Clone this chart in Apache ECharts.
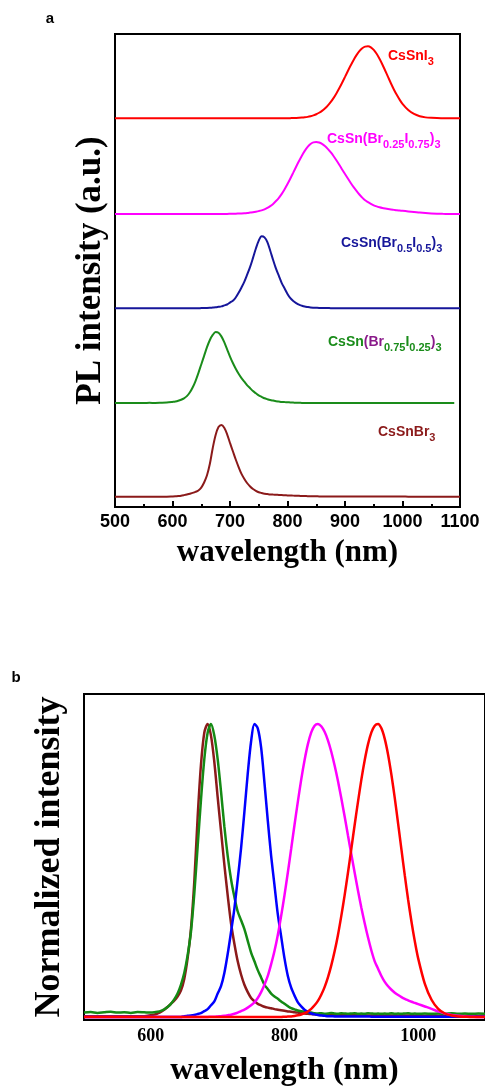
<!DOCTYPE html>
<html>
<head>
<meta charset="utf-8">
<script src="https://cdn.jsdelivr.net/npm/echarts@6/dist/echarts.min.js"></script>
<style>
html,body{margin:0;padding:0;background:#fff;}
#chart{width:485px;height:1088px;}
</style>
</head>
<body>
<div id="chart"></div>
<script>
// wavelength grid (nm): 10 nm steps at the ends, 5 nm steps 600-1000
const wavelengths = [500,510,520,530,540,550,560,570,580,590,
600,605,610,615,620,625,630,635,640,645,650,655,660,665,670,675,680,685,690,695,
700,705,710,715,720,725,730,735,740,745,750,755,760,765,770,775,780,785,790,795,
800,805,810,815,820,825,830,835,840,845,850,855,860,865,870,875,880,885,890,895,
900,905,910,915,920,925,930,935,940,945,950,955,960,965,970,975,980,985,990,995,
1000,1010,1020,1030,1040,1050,1060,1070,1080,1090,1100];

// normalized PL spectra
const cssnbr3 = [0.003,0.003,0.003,0.003,0.003,0.003,0.003,0.003,0.003,0.003,
0.006,0.008,0.012,0.017,0.025,0.034,0.045,0.056,0.07,0.09,
0.13,0.2,0.30,0.46,0.68,0.86,0.97,1.0,0.96,0.87,
0.75,0.635,0.52,0.415,0.32,0.25,0.19,0.145,0.11,0.085,
0.065,0.054,0.045,0.04,0.035,0.032,0.03,0.027,0.025,0.023,
0.021,0.019,0.018,0.016,0.015,0.013,0.012,0.011,0.01,0.009,
0.008,0.0075,0.007,0.006,0.006,0.006,0.006,0.006,0.006,0.006,
0.006,0.006,0.006,0.005,0.005,0.005,0.005,0.005,0.005,0.005,
0.005,0.005,0.005,0.005,0.005,0.005,0.005,0.005,0.005,0.005,
0.005,0.004,0.004,0.004,0.004,0.004,0.004,0.004,0.004,0.004,0.004];

const brI_75_25_b = [0.015,0.017,0.014,0.016,0.018,0.015,0.016,0.014,0.017,0.016,
0.015,0.016,0.018,0.021,0.026,0.034,0.045,0.06,0.08,0.11,
0.15,0.21,0.29,0.42,0.58,0.74,0.88,0.97,1.0,0.96,
0.88,0.77,0.65,0.55,0.47,0.41,0.36,0.33,0.30,0.26,
0.22,0.19,0.16,0.135,0.11,0.095,0.08,0.07,0.062,0.053,
0.045,0.037,0.03,0.026,0.022,0.02,0.018,0.016,0.015,0.013,
0.012,0.013,0.011,0.012,0.014,0.012,0.011,0.013,0.012,0.011,
0.012,0.013,0.011,0.012,0.011,0.013,0.012,0.011,0.012,0.011,
0.012,0.011,0.013,0.011,0.012,0.011,0.012,0.013,0.011,0.012,
0.011,0.012,0.011,0.012,0.011,0.013,0.011,0.012,0.011,0.012,0.011];

const brI_75_25_a = [0.015,0.016,0.015,0.014,0.016,0.015,0.017,0.015,0.018,0.022,
0.03,0.035,0.045,0.06,0.08,0.11,0.16,0.23,0.32,0.43,
0.55,0.67,0.79,0.89,0.96,1.0,0.99,0.94,0.86,0.76,
0.66,0.57,0.49,0.42,0.36,0.31,0.26,0.22,0.18,0.15,
0.12,0.10,0.08,0.067,0.056,0.048,0.04,0.035,0.03,0.027,
0.025,0.022,0.02,0.018,0.017,0.016,0.015,0.016,0.015,0.014,
0.015,0.016,0.014,0.015,0.015,0.016,0.014,0.015,0.016,0.015,
0.014,0.015,0.016,0.015,0.014,0.015,0.015,0.016,0.014,0.015,
0.015,0.014,0.016,0.015,0.015,0.014,0.015,0.016,0.015,0.014,
0.015,0.015,0.016,0.014,0.015,0.015,0.014,0.016,0.015,0.015,null];

const brI_50_50 = [0,0,0,0,0,0,0,0,0,0,
0,0,0,0,0,0,0,0,0,0,
0.003,0.004,0.005,0.007,0.01,0.013,0.02,0.027,0.04,0.053,
0.08,0.105,0.15,0.215,0.29,0.37,0.47,0.575,0.70,0.83,
0.94,1.0,0.985,0.92,0.80,0.67,0.55,0.45,0.35,0.275,
0.20,0.14,0.10,0.073,0.05,0.036,0.025,0.018,0.012,0.009,
0.007,0.005,0.004,0.003,0.003,0.002,0.002,0.002,0.002,0.002,
0.002,0.002,0.002,0.002,0.002,0.002,0.001,0.001,0.001,0.001,
0.001,0.001,0.001,0.001,0.001,0.001,0.001,0.001,0.001,0.001,
0.001,0.001,0.001,0.001,0.001,0.001,0.001,0.001,0.001,0.001,0.001];

const brI_25_75 = [0,0,0,0,0,0,0,0,0,0,
0,0,0,0,0,0,0,0,0,0,
0,0,0,0,0,0,0,0,0.001,0.001,
0.002,0.003,0.004,0.006,0.008,0.011,0.015,0.02,0.025,0.032,
0.04,0.05,0.065,0.085,0.11,0.14,0.18,0.225,0.28,0.345,
0.416,0.493,0.574,0.656,0.735,0.81,0.876,0.931,0.971,0.994,
1.0,0.992,0.973,0.944,0.905,0.858,0.805,0.746,0.684,0.619,
0.555,0.492,0.431,0.373,0.32,0.271,0.227,0.19,0.165,0.14,
0.12,0.105,0.093,0.083,0.075,0.068,0.062,0.057,0.052,0.048,
0.044,0.036,0.028,0.019,0.012,0.007,0.004,0.002,0.001,0,0];

const cssni3 = [0,0,0,0,0,0,0,0,0,0,
0,0,0,0,0,0,0,0,0,0,
0,0,0,0,0,0,0,0,0,0,
0,0,0,0,0,0,0,0,0,0,
0,0,0,0,0,0,0,0,0,0,
0.001,0.0014,0.002,0.0036,0.0057,0.0087,0.013,0.019,0.028,0.040,
0.055,0.076,0.102,0.135,0.176,0.224,0.280,0.345,0.416,0.493,
0.574,0.656,0.735,0.810,0.876,0.931,0.971,0.994,1.0,0.985,
0.949,0.895,0.826,0.747,0.660,0.571,0.483,0.400,0.325,0.258,
0.200,0.113,0.059,0.028,0.012,0.005,0.002,0.001,0,0,0];

// vertical offsets of the stacked curves in panel a (bottom to top)
const offsetsA = [0.14, 1.43, 2.76, 4.07, 5.40];
const xTicksB = [600, 800, 1000];

function pairs(vals, off) {
  return wavelengths.map((w, i) => [w, vals[i] == null ? null : vals[i] + off]);
}

const serifFont = "'Liberation Serif','Times New Roman',serif";
const sansFont = "'Liberation Sans',Arial,sans-serif";

const specsA = [
  {name: 'CsSnBr3', data: cssnbr3, color: '#8b1a1a'},
  {name: 'CsSn(Br0.75I0.25)3', data: brI_75_25_a, color: '#1a8c1a'},
  {name: 'CsSn(Br0.5I0.5)3', data: brI_50_50, color: '#16169a'},
  {name: 'CsSn(Br0.25I0.75)3', data: brI_25_75, color: '#ff00ff'},
  {name: 'CsSnI3', data: cssni3, color: '#ff0000'}
];
const specsB = [
  {name: 'CsSnBr3', data: cssnbr3, color: '#8b1a1a'},
  {name: 'CsSn(Br0.75I0.25)3', data: brI_75_25_b, color: '#148a14'},
  {name: 'CsSn(Br0.5I0.5)3', data: brI_50_50, color: '#0000ff'},
  {name: 'CsSn(Br0.25I0.75)3', data: brI_25_75, color: '#ff00ff'},
  {name: 'CsSnI3', data: cssni3, color: '#ff0000'}
];

const series = [];
specsA.forEach((s, k) => series.push({
  type: 'line', name: s.name + ' (a)', xAxisIndex: 0, yAxisIndex: 0,
  data: pairs(s.data, offsetsA[k]), smooth: 0.3, showSymbol: false,
  lineStyle: {color: s.color, width: 2}, itemStyle: {color: s.color}, silent: true, z: 3
}));
specsB.forEach((s) => series.push({
  type: 'line', name: s.name + ' (b)', xAxisIndex: 1, yAxisIndex: 1,
  data: pairs(s.data, 0), smooth: 0.3, showSymbol: false,
  lineStyle: {color: s.color, width: 2.5}, itemStyle: {color: s.color}, silent: true, z: 3
}));

function richStyles(col, alt) {
  return {
    n: {fontFamily: sansFont, fontWeight: 'bold', fontSize: 14, lineHeight: 22, verticalAlign: 'middle', fill: col, color: col},
    p: {fontFamily: sansFont, fontWeight: 'bold', fontSize: 14, lineHeight: 22, verticalAlign: 'middle', fill: alt || col, color: alt || col},
    s: {fontFamily: sansFont, fontWeight: 'bold', fontSize: 11, lineHeight: 11, verticalAlign: 'bottom', fill: col, color: col}
  };
}
function label(x, y, text, col, alt) {
  return {type: 'text', x: x, y: y, style: {text: text, rich: richStyles(col, alt), fill: col, align: 'left', verticalAlign: 'middle', fontFamily: sansFont, fontWeight: 'bold', fontSize: 14}};
}
const plainNum = v => String(v);

const option = {
  animation: false,
  backgroundColor: '#fff',
  grid: [
    {left: 115, top: 34, width: 345, height: 473, show: true, borderColor: '#000', borderWidth: 2, backgroundColor: 'transparent'},
    {left: 84, top: 694, width: 403, height: 327, show: true, borderColor: '#000', borderWidth: 2, backgroundColor: 'transparent'}
  ],
  xAxis: [
    {type: 'value', gridIndex: 0, min: 500, max: 1100, interval: 100,
     axisLine: {show: true, onZero: false, lineStyle: {color: '#000', width: 2}},
     axisTick: {show: true, inside: true, length: 6, lineStyle: {color: '#000', width: 2}},
     minorTick: {show: true, splitNumber: 2, length: 3, lineStyle: {color: '#000', width: 2}},
     splitLine: {show: false}, minorSplitLine: {show: false},
     axisLabel: {color: '#000', fontFamily: sansFont, fontWeight: 'bold', fontSize: 18, margin: 6, formatter: plainNum},
     name: 'wavelength (nm)', nameLocation: 'middle', nameGap: 30,
     nameTextStyle: {color: '#000', fontFamily: serifFont, fontWeight: 'bold', fontSize: 31}},
    {type: 'value', gridIndex: 1, min: 500, max: 1100,
     axisLine: {show: true, onZero: false, lineStyle: {color: '#000', width: 2}},
     axisTick: {show: false},
     splitLine: {show: false},
     axisLabel: {color: '#000', fontFamily: serifFont, fontWeight: 'bold', fontSize: 18, margin: 7, customValues: xTicksB, formatter: plainNum},
     name: 'wavelength (nm)', nameLocation: 'middle', nameGap: 35,
     nameTextStyle: {color: '#000', fontFamily: serifFont, fontWeight: 'bold', fontSize: 32}}
  ],
  yAxis: [
    {type: 'value', gridIndex: 0, min: 0, max: 6.57,
     axisLine: {show: true, onZero: false, lineStyle: {color: '#000', width: 2}},
     axisTick: {show: false}, axisLabel: {show: false}, splitLine: {show: false},
     name: 'PL intensity (a.u.)', nameLocation: 'middle', nameGap: 7, nameRotate: 90,
     nameTextStyle: {color: '#000', fontFamily: serifFont, fontWeight: 'bold', fontSize: 35}},
    {type: 'value', gridIndex: 1, min: -0.0102, max: 1.102,
     axisLine: {show: true, onZero: false, lineStyle: {color: '#000', width: 2}},
     axisTick: {show: false}, axisLabel: {show: false}, splitLine: {show: false},
     name: 'Normalized intensity', nameLocation: 'middle', nameGap: 16, nameRotate: 90,
     nameTextStyle: {color: '#000', fontFamily: serifFont, fontWeight: 'bold', fontSize: 36}}
  ],
  graphic: [
    {type: 'text', x: 50, y: 19, style: {text: 'a', fill: '#000', align: 'center', verticalAlign: 'middle', fontFamily: sansFont, fontWeight: 'bold', fontSize: 15}},
    {type: 'text', x: 16, y: 678, style: {text: 'b', fill: '#000', align: 'center', verticalAlign: 'middle', fontFamily: sansFont, fontWeight: 'bold', fontSize: 15}},
    label(388, 56, '{n|CsSnI}{s|3}', '#ff0000'),
    label(327, 139, '{n|CsSn(Br}{s|0.25}{n|I}{s|0.75}{n|)}{s|3}', '#ff00ff'),
    label(341, 243, '{n|CsSn(Br}{s|0.5}{n|I}{s|0.5}{n|)}{s|3}', '#16169a'),
    label(328, 342, '{n|CsSn}{p|(Br}{s|0.75}{n|I}{s|0.25}{p|)}{s|3}', '#1a8c1a', '#8a1a8a'),
    label(378, 432, '{n|CsSnBr}{s|3}', '#8b1a1a')
  ],
  series: series
};

const chart = echarts.init(document.getElementById('chart'), null, {renderer: 'canvas'});
chart.setOption(option);
</script>
</body>
</html>
